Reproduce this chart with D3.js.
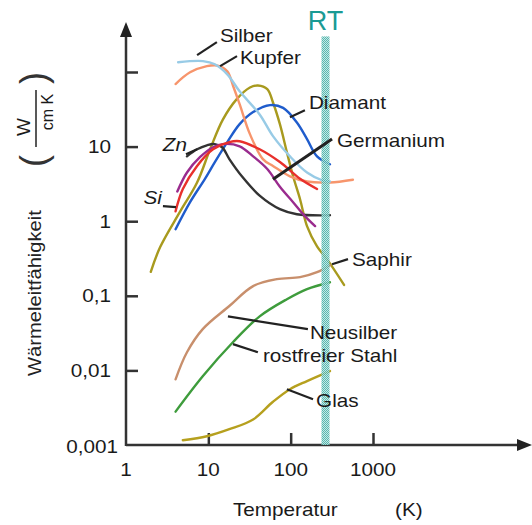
<!DOCTYPE html>
<html>
<head>
<meta charset="utf-8">
<script src="https://cdn.jsdelivr.net/npm/d3@7"></script>
<style>
body { margin: 0; background: #fff; }
svg text { font-family: "Liberation Sans", Arial, sans-serif; fill: #1a1a1a; }
</style>
</head>
<body>
<svg id="chart"></svg>
<script>
// Wärmeleitfähigkeit (W/cm K) over temperature (K)
var silberT = [4.3, 8.6, 12, 17, 24, 42, 61, 98, 158, 247, 300];
var silberK = [135, 140, 127, 93, 55, 27, 13.8, 7.4, 4.5, 3.5, 3.4];

var kupferT = [4, 6, 9.6, 13, 17, 20, 24, 32, 46, 61, 98, 158, 300, 570];
var kupferK = [69, 99, 120, 122, 102, 65, 37, 14.7, 6.8, 5.5, 4.0, 3.4, 3.3, 3.6];

var diamantT = [4, 6, 9.1, 12, 17, 24, 35, 56, 81, 119, 158, 209, 300];
var diamantK = [0.78, 1.8, 3.7, 6.2, 11.5, 20, 29, 36, 33, 21, 12.6, 7.4, 5.8];

var saphirT = [2, 2.6, 4.5, 7.3, 10.5, 15, 22, 32, 40, 52, 61, 74, 90, 107, 130, 158, 209, 276, 445];
var saphirK = [0.21, 0.45, 1.32, 3.3, 9.2, 23, 43, 62, 66, 59, 39, 20, 8.4, 4.0, 1.97, 0.86, 0.46, 0.31, 0.14];

var germaniumT = [4, 4.9, 7.3, 11.4, 18, 24, 42, 74, 130, 209];
var germaniumK = [1.36, 2.7, 5.5, 9.2, 11.5, 11.8, 9.2, 6.2, 3.7, 2.7];

var siT = [4.2, 5.5, 7.9, 11.4, 15, 24, 35, 52, 74, 107, 149, 198];
var siK = [2.5, 4.5, 7.2, 9.8, 10.8, 10.1, 7.4, 5.0, 2.9, 1.8, 1.17, 0.86];

var znT = [5.5, 7.3, 9.6, 12, 14.7, 18, 26, 42, 74, 119, 300];
var znK = [7.4, 9.2, 10.4, 10.8, 9.8, 6.8, 3.9, 2.2, 1.45, 1.24, 1.2];

var neusilberT = [4, 5.5, 8.6, 18, 35, 68, 130, 209, 300];
var neusilberK = [0.0076, 0.0175, 0.036, 0.073, 0.135, 0.167, 0.178, 0.207, 0.257];

var stahlT = [4, 8.6, 20, 42, 90, 158, 300];
var stahlK = [0.0028, 0.0084, 0.024, 0.053, 0.09, 0.123, 0.152];

var glasT = [4.9, 9.6, 18, 35, 61, 98, 158, 300];
var glasK = [0.00116, 0.00131, 0.00163, 0.0022, 0.0038, 0.0056, 0.0072, 0.0098];

var xTicks = [10, 100, 1000];
var xTickLabels = ["1", "10", "100", "1000"];
var yTicks = [0.001, 0.01, 0.1, 1, 10, 100];
var yTickLabels = ["0,001", "0,01", "0,1", "1", "10", ""];
var roomTemp = 265;

// label leaders: from (curve) -> to (text end), in data units
var annoNames = ["Silber", "Kupfer", "Diamant", "Germanium", "Zn", "Si", "Saphir", "Neusilber", "rostfreier Stahl", "Glas"];
var annoFromT = [7.3, 13.9, 98, 61, 7.3, 4.05, 318, 17.3, 19.9, 90];
var annoFromK = [168, 120, 24.8, 3.66, 9.2, 1.54, 0.265, 0.053, 0.0225, 0.0056];
var annoToT = [12.7, 22.3, 149, 318, 5.35, 2.81, 497, 162, 40, 187];
var annoToK = [251, 163, 30.7, 12.6, 7.9, 1.59, 0.31, 0.0357, 0.0175, 0.00411];

const width = 532, height = 525;
const svg = d3.select("#chart").attr("width", width).attr("height", height);

const x = d3.scaleLog().domain([1, 1000]).range([126, 373]);
const y = d3.scaleLog().domain([0.001, 100]).range([445, 72]);

const series = [
    {name: "Saphir", T: saphirT, K: saphirK, color: "#a89a1e"},
    {name: "Diamant", T: diamantT, K: diamantK, color: "#1f5ccc"},
    {name: "Kupfer", T: kupferT, K: kupferK, color: "#f7956c"},
    {name: "Silber", T: silberT, K: silberK, color: "#98cbe6"},
    {name: "Zn", T: znT, K: znK, color: "#333333"},
    {name: "Si", T: siT, K: siK, color: "#9a2b8e"},
    {name: "Germanium", T: germaniumT, K: germaniumK, color: "#e8302c"},
    {name: "Neusilber", T: neusilberT, K: neusilberK, color: "#c88f6c"},
    {name: "Stahl", T: stahlT, K: stahlK, color: "#3e9c3c"},
    {name: "Glas", T: glasT, K: glasK, color: "#b6a01e"}
];

// text is horizontally stretched in the original
function stext(parent, px, py, str, anchor, size, italic) {
    var g = parent.append("g").attr("transform", `translate(${px},${py}) scale(1.15,1)`);
    return g.append("text")
        .attr("text-anchor", anchor || "start")
        .attr("dominant-baseline", "central")
        .style("font-size", (size || 18) + "px")
        .style("font-style", italic ? "italic" : "normal")
        .text(str);
}

// checkered RT band
const defs = svg.append("defs");
const pat = defs.append("pattern").attr("id", "checker")
    .attr("width", 2).attr("height", 2).attr("patternUnits", "userSpaceOnUse");
pat.append("rect").attr("width", 2).attr("height", 2).attr("fill", "#bfe6e2");
pat.append("rect").attr("width", 1).attr("height", 1).attr("fill", "#45afa7");
pat.append("rect").attr("x", 1).attr("y", 1).attr("width", 1).attr("height", 1).attr("fill", "#45afa7");

// axes
const axisG = svg.append("g");
axisG.append("g")
    .attr("transform", `translate(0,${y(0.001)})`)
    .call(d3.axisBottom(x).tickValues(xTicks).tickSize(-12).tickFormat(""))
    .call(g => g.select(".domain").remove())
    .selectAll("line").attr("stroke", "#333").attr("stroke-width", 2.5);
axisG.append("g")
    .attr("transform", `translate(${x(1)},0)`)
    .call(d3.axisLeft(y).tickValues(yTicks.slice(1)).tickSize(-12).tickFormat(""))
    .call(g => g.select(".domain").remove())
    .selectAll("line").attr("stroke", "#333").attr("stroke-width", 2.5);

axisG.append("line")
    .attr("x1", x(1)).attr("x2", 520).attr("y1", y(0.001)).attr("y2", y(0.001))
    .attr("stroke", "#333").attr("stroke-width", 2.5);
axisG.append("line")
    .attr("x1", x(1)).attr("x2", x(1)).attr("y1", y(0.001) + 1).attr("y2", 34)
    .attr("stroke", "#333").attr("stroke-width", 2.5);
axisG.append("path")
    .attr("d", `M${x(1)},22 L${x(1) - 6},37 L${x(1) + 6},37 Z`).attr("fill", "#222");
axisG.append("path")
    .attr("d", `M532,${y(0.001)} L517,${y(0.001) - 6} L517,${y(0.001) + 6} Z`).attr("fill", "#222");

// tick labels
yTicks.forEach(function (v, i) {
    if (yTickLabels[i] === "") return;
    if (v === 0.001) stext(svg, 118, y(v) + 2, yTickLabels[i], "end");
    else stext(svg, 111, y(v), yTickLabels[i], "end");
});
[1].concat(xTicks).forEach(function (v, i) {
    stext(svg, x(v), 470, xTickLabels[i], "middle");
});

stext(svg, 233, 510, "Temperatur", "start");
stext(svg, 395, 510, "(K)", "start");

// y axis title
svg.append("g").attr("transform", "translate(35,293) rotate(-90) scale(1.12,1)")
    .append("text")
    .attr("text-anchor", "middle").attr("dominant-baseline", "central")
    .style("font-size", "18px").style("fill", "#222")
    .text("Wärmeleitfähigkeit");

const unit = svg.append("g").attr("transform", "translate(36,119) rotate(-90)");
unit.append("text").attr("x", -42).attr("y", -3)
    .attr("text-anchor", "middle").attr("dominant-baseline", "central")
    .style("font-size", "36px").style("fill", "#333").text("(");
unit.append("text").attr("x", 41).attr("y", -3)
    .attr("text-anchor", "middle").attr("dominant-baseline", "central")
    .style("font-size", "36px").style("fill", "#333").text(")");
unit.append("text").attr("x", -8).attr("y", -13)
    .attr("text-anchor", "middle").attr("dominant-baseline", "central")
    .style("font-size", "19px").text("W");
unit.append("line").attr("x1", -28).attr("x2", 29).attr("y1", 0).attr("y2", 0)
    .attr("stroke", "#222").attr("stroke-width", 1.5);
unit.append("text").attr("x", 7).attr("y", 11)
    .attr("text-anchor", "middle").attr("dominant-baseline", "central")
    .style("font-size", "16px").text("cm K");

// curves
const line = d3.line()
    .x(d => x(d[0]))
    .y(d => y(d[1]))
    .curve(d3.curveCatmullRom.alpha(0.5));

svg.append("g").selectAll("path")
    .data(series)
    .join("path")
    .attr("d", s => line(s.T.map((t, i) => [t, s.K[i]])))
    .attr("fill", "none")
    .attr("stroke", s => s.color)
    .attr("stroke-width", 2.4)
    .attr("stroke-linejoin", "round")
    .attr("stroke-linecap", "round");

// RT band
svg.append("rect")
    .attr("x", x(roomTemp) - 4).attr("width", 8)
    .attr("y", y(300)).attr("height", y(0.001) - y(300))
    .attr("fill", "url(#checker)").attr("opacity", 0.9);
svg.append("text")
    .attr("x", x(roomTemp)).attr("y", 30)
    .attr("text-anchor", "middle")
    .style("font-size", "27px").style("fill", "#1a9a94")
    .text("RT");

// labels with leader lines
var labelStyle = {
    "Silber": [3, -7, "start", false],
    "Kupfer": [3, 1, "start", false],
    "Diamant": [4, -8, "start", false],
    "Germanium": [5, 1, "start", false],
    "Zn": [1, -10, "end", true],
    "Si": [-1, -9, "end", true],
    "Saphir": [4, 0, "start", false],
    "Neusilber": [2, 3, "start", false],
    "rostfreier Stahl": [5, 3, "start", false],
    "Glas": [3, 1, "start", false]
};
const annoG = svg.append("g");
annoNames.forEach(function (n, i) {
    var x1 = x(annoFromT[i]), y1 = y(annoFromK[i]), x2 = x(annoToT[i]), y2 = y(annoToK[i]);
    annoG.append("line")
        .attr("x1", x1).attr("y1", y1).attr("x2", x2).attr("y2", y2)
        .attr("stroke", "#222").attr("stroke-width", n === "Germanium" ? 3 : 2.2);
    var st = labelStyle[n];
    stext(annoG, x2 + st[0], y2 + st[1], n, st[2], 18, st[3]);
});
</script>
</body>
</html>
